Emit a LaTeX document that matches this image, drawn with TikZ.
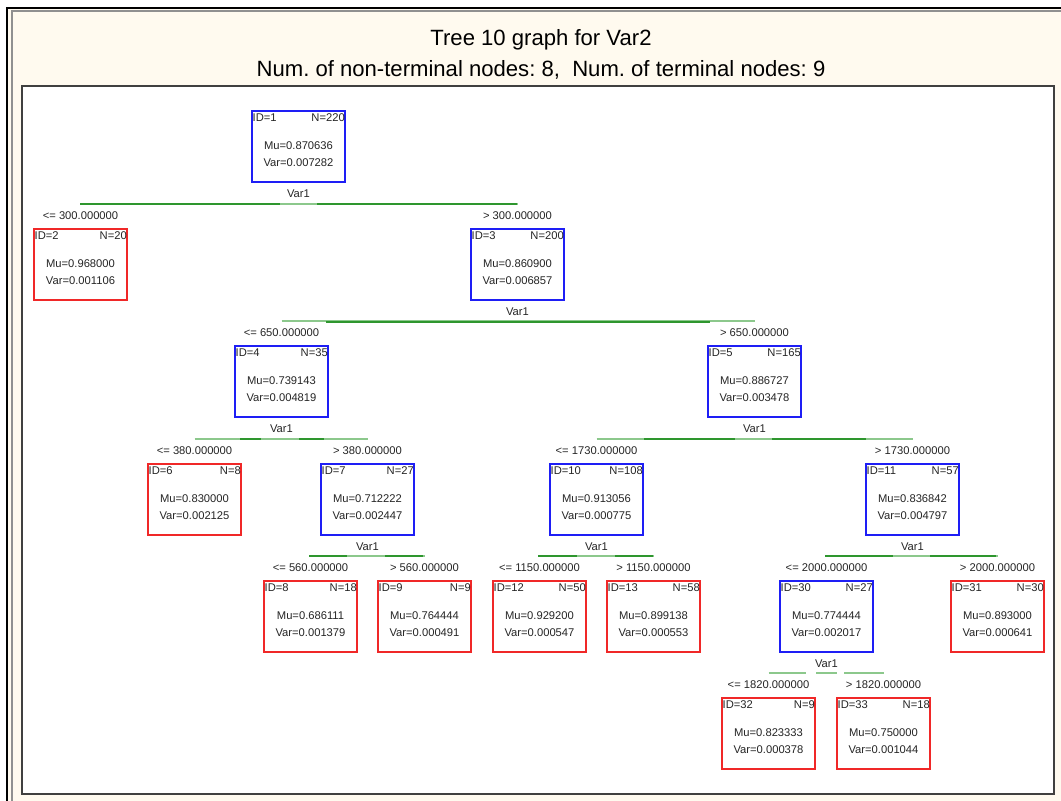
\documentclass[tikz,border=0pt]{standalone}
\usepackage{fontspec}
\setmainfont{Liberation Sans}
\frenchspacing
\definecolor{panelbg}{HTML}{FFFAEF}
\definecolor{framegray}{HTML}{909090}
\definecolor{paneledge}{HTML}{404040}
\definecolor{nodeblue}{HTML}{1E1EF5}
\definecolor{nodered}{HTML}{F02828}
\definecolor{txtgray}{HTML}{262626}
\definecolor{splitdark}{HTML}{2E962E}
\definecolor{splitlight}{HTML}{8CC88C}

\tikzset{
  txt/.style={inner sep=0pt, text=txtgray, font=\fontsize{11.2}{12}\selectfont},
  boxbase/.style={draw, line width=2pt, minimum width=93pt, minimum height=71pt, inner sep=0pt},
  inner/.style={boxbase, draw=nodeblue},
  leaf/.style={boxbase, draw=nodered},
  lightline/.style={draw=splitlight, line width=2pt},
  darkline/.style={draw=splitdark, line width=2pt},
  titletxt/.style={inner sep=0pt, text=black, font=\fontsize{22.1}{24}\selectfont},
}

% tree node: name, x, y (top-left), style, id, n, mu, var
\newcommand\treenode[8]{%
  \node[#4, anchor=north west] (#1) at (#2,#3) {};
  \node[txt, anchor=west] (#1-id) at ([shift={(1.5pt,-8pt)}]#1.north west) {ID=#5};
  \node[txt, anchor=east] (#1-n) at ([shift={(-1pt,-8pt)}]#1.north east) {N=#6};
  \node[txt] (#1-mu) at ([yshift=-36pt]#1.north) {Mu=#7};
  \node[txt] (#1-var) at ([yshift=-53pt]#1.north) {Var=#8};
}

% split: parent, left child, right child, left threshold, right threshold
\newcommand\treesplit[5]{%
  \node[txt] (#1-split) at ([yshift=-11pt]#1.south) {Var1};
  \draw[lightline] ([yshift=24pt]#2.north) -- ([yshift=24pt]#3.north);
  \node[txt] (#2-lab) at ([yshift=12pt]#2.north) {<= #4};
  \node[txt] (#3-lab) at ([yshift=12pt]#3.north) {> #5};
}

\begin{document}
\begin{tikzpicture}[x=1pt, y=-1pt]
\useasboundingbox (0,0) rectangle (1061,801);
% window background and frame
\fill[white] (0,0) rectangle (1061,801);
\fill[panelbg] (7,8) rectangle (1061,801);
\draw[framegray, line width=2pt] (12,801) -- (12,11) -- (1061,11);
\draw[black, line width=2pt] (7,801) -- (7,8) -- (1061,8);
% plot panel
\fill[white] (22,86) rectangle (1054,794);
\draw[paneledge, line width=2pt] (22,86) rectangle (1054,794);

% titles
\node[titletxt] (title1) at (541,40) {Tree 10 graph for Var2};
\node[titletxt] (title2) at (541,70) {Num. of non-terminal nodes: 8,\ \ Num. of terminal nodes: 9};

% nodes
\treenode{n1}{251}{110}{inner}{1}{220}{0.870636}{0.007282}
\treenode{n2}{33}{228}{leaf}{2}{20}{0.968000}{0.001106}
\treenode{n3}{470}{228}{inner}{3}{200}{0.860900}{0.006857}
\treenode{n4}{234}{345}{inner}{4}{35}{0.739143}{0.004819}
\treenode{n5}{707}{345}{inner}{5}{165}{0.886727}{0.003478}
\treenode{n6}{147}{463}{leaf}{6}{8}{0.830000}{0.002125}
\treenode{n7}{320}{463}{inner}{7}{27}{0.712222}{0.002447}
\treenode{n10}{549}{463}{inner}{10}{108}{0.913056}{0.000775}
\treenode{n11}{865}{463}{inner}{11}{57}{0.836842}{0.004797}
\treenode{n8}{263}{580}{leaf}{8}{18}{0.686111}{0.001379}
\treenode{n9}{377}{580}{leaf}{9}{9}{0.764444}{0.000491}
\treenode{n12}{492}{580}{leaf}{12}{50}{0.929200}{0.000547}
\treenode{n13}{606}{580}{leaf}{13}{58}{0.899138}{0.000553}
\treenode{n30}{779}{580}{inner}{30}{27}{0.774444}{0.002017}
\treenode{n31}{950}{580}{leaf}{31}{30}{0.893000}{0.000641}
\treenode{n32}{721}{697}{leaf}{32}{9}{0.823333}{0.000378}
\treenode{n33}{836}{697}{leaf}{33}{18}{0.750000}{0.001044}

% splits
\treesplit{n1}{n2}{n3}{300.000000}{300.000000}
\treesplit{n3}{n4}{n5}{650.000000}{650.000000}
\treesplit{n4}{n6}{n7}{380.000000}{380.000000}
\treesplit{n5}{n10}{n11}{1730.000000}{1730.000000}
\treesplit{n7}{n8}{n9}{560.000000}{560.000000}
\treesplit{n10}{n12}{n13}{1150.000000}{1150.000000}
\treesplit{n11}{n30}{n31}{2000.000000}{2000.000000}
\treesplit{n30}{n32}{n33}{1820.000000}{1820.000000}

% darker stretches of the split lines
\draw[darkline] (80,204) -- (280,204) (317,204) -- (517,204);
\draw[darkline] (326,322) -- (710,322);
\draw[darkline] (240,439) -- (261,439) (299,439) -- (324,439);
\draw[darkline] (644,439) -- (735,439) (772,439) -- (866,439);
\draw[darkline] (309,556) -- (347,556) (385,556) -- (423,556);
\draw[darkline] (538,556) -- (577,556) (615,556) -- (653,556);
\draw[darkline] (825,556) -- (893,556) (930,556) -- (996,556);
% gaps in the last split line
\draw[white, line width=2.4pt] (806,673) -- (816,673) (837,673) -- (844,673);
\end{tikzpicture}
\end{document}
